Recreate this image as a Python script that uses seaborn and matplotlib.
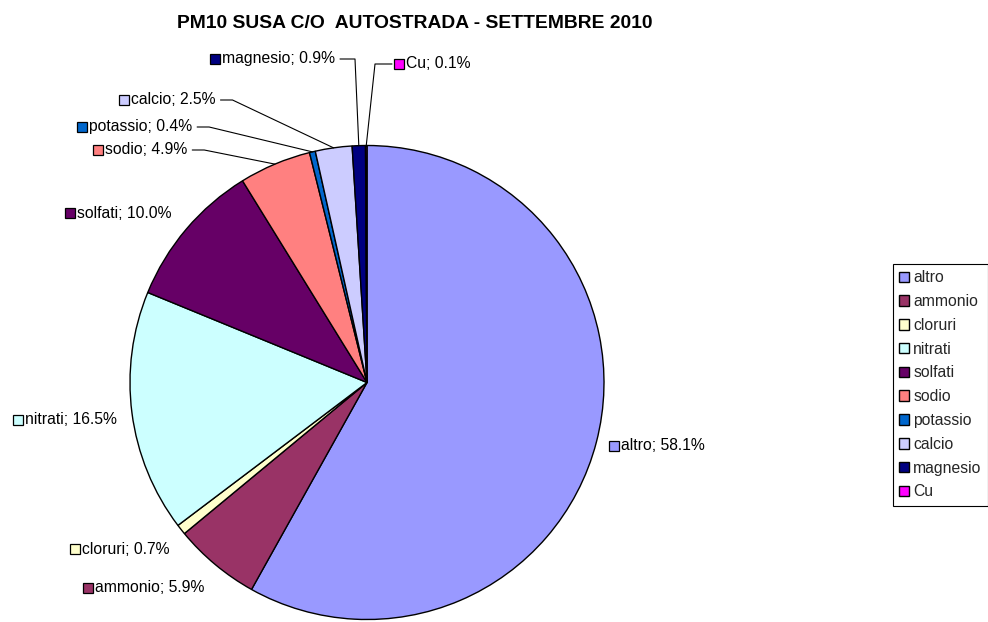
import matplotlib
matplotlib.use("Agg")
import matplotlib.pyplot as plt
import seaborn as sns
import numpy as np

categories = ["altro", "ammonio", "cloruri", "nitrati", "solfati", "sodio",
              "potassio", "calcio", "magnesio", "Cu"]
values = [58.1, 5.9, 0.7, 16.5, 10.0, 4.9, 0.4, 2.5, 0.9, 0.1]
colors = ["#9999FF", "#993366", "#FFFFCC", "#CCFFFF", "#660066", "#FF8080",
          "#0066CC", "#CCCCFF", "#000080", "#FF00FF"]
title = "PM10 SUSA C/O  AUTOSTRADA - SETTEMBRE 2010"

sns.set_theme(style="white")
plt.rcParams['font.family'] = ['Liberation Sans', 'DejaVu Sans']

W, H = 988, 622
fig = plt.figure(figsize=(W / 100, H / 100), dpi=100)
ax = fig.add_axes([0, 0, 1, 1])

def Y(y):
    return H - y

cx, cy, R = 367, 382.5, 237
wedges, _ = ax.pie(values, colors=colors, startangle=90, counterclock=False,
                   center=(cx, Y(cy)), radius=R,
                   wedgeprops=dict(edgecolor="black", linewidth=1.0))
ax.set_xlim(0, W)
ax.set_ylim(0, H)
ax.set_aspect("equal")
ax.axis("off")

FS = 11.3
# label layout: (square left x, center y, leader?)
layout = {
    "altro": (609, 446, False),
    "ammonio": (83, 588, False),
    "cloruri": (70, 549, False),
    "nitrati": (13, 420, False),
    "solfati": (65, 213, False),
    "sodio": (93, 150, True),
    "potassio": (77, 127, True),
    "calcio": (119, 100, True),
    "magnesio": (210, 59, True),
    "Cu": (394, 64, True),
}

fig.canvas.draw()
renderer = fig.canvas.get_renderer()
for i, (cat, val) in enumerate(zip(categories, values)):
    sx, sy, leader = layout[cat]
    ax.plot([sx + 4.5], [Y(sy)], marker="s", ms=7, mfc=colors[i], mec="black",
            mew=0.9, ls="none", zorder=5)
    t = ax.text(sx + 12, Y(sy), f"{cat}; {val:.1f}%", fontsize=FS,
                va="center", ha="left", color="black")
    if leader:
        w = wedges[i]
        mid = np.deg2rad((w.theta1 + w.theta2) / 2)
        ex, ey = cx + R * np.cos(mid), Y(cy) + R * np.sin(mid)
        if cat == "Cu":
            x0 = sx - 2
            x1 = x0 - 17
        else:
            bb = t.get_window_extent(renderer)
            x0 = bb.x1 + 5
            x1 = x0 + (15 if cat == "magnesio" else 12)
        ax.plot([x0, x1, ex], [Y(sy), Y(sy), ey], color="black", lw=0.8, zorder=4)

ax.text(415, Y(23), title, fontsize=13.9, fontweight="bold", ha="center",
        va="center", color="black")

leg = ax.legend(wedges, categories, loc="upper left",
                bbox_to_anchor=(893 / W, 1 - 264 / H), bbox_transform=fig.transFigure,
                fontsize=FS, frameon=True, fancybox=False, edgecolor="black",
                framealpha=1, handlelength=0.65, handleheight=0.65,
                handletextpad=0.25, labelspacing=0.56, borderpad=0.4,
                borderaxespad=0)
leg.get_frame().set_linewidth(0.8)

fig.savefig("out.png", dpi=100)
